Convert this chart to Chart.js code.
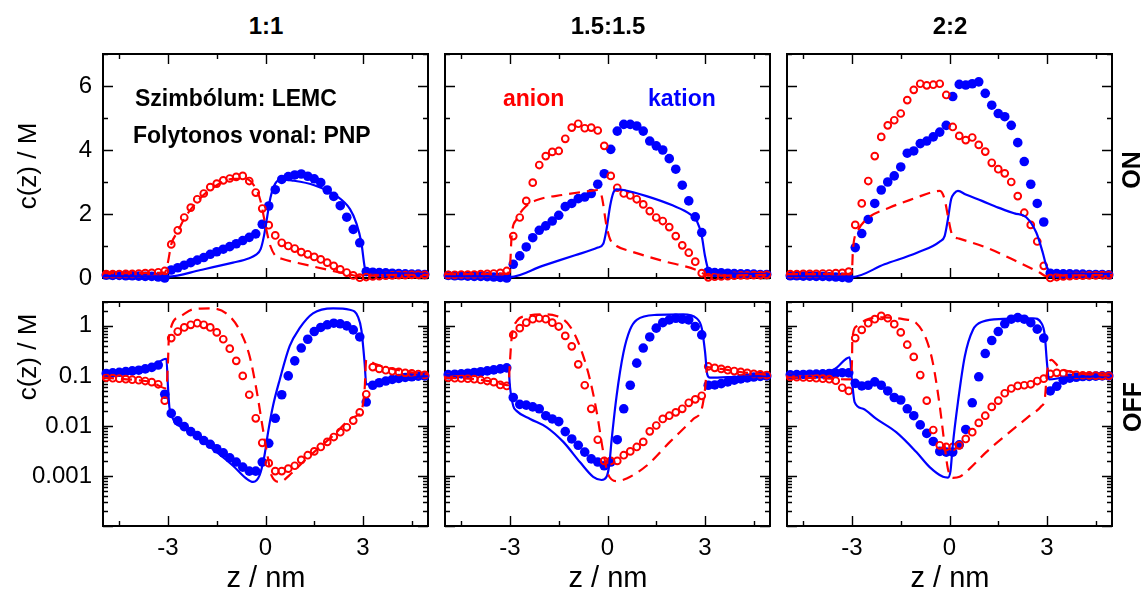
<!DOCTYPE html>
<html>
<head>
<meta charset="utf-8">
<script src="https://cdn.jsdelivr.net/npm/chart.js@4.4.1/dist/chart.umd.min.js"></script>
<style>
  body { margin: 0; background: #fff; width: 1144px; height: 592px; position: relative; overflow: hidden;
         font-family: "Liberation Sans", Arial, Helvetica, sans-serif; color: #000; }
  canvas { position: absolute; }
  .lbl { position: absolute; transform: translate(-50%, -50%); white-space: nowrap; z-index: 2; }
  .title { font-weight: bold; font-size: 24px; }
  .ytitle { font-size: 26px; transform: translate(-50%, -50%) rotate(-90deg); }
  .xtitle { font-size: 29px; }
  .side { font-weight: bold; font-size: 25px; transform: translate(-50%, -50%) rotate(-90deg); }
  .note { position: absolute; transform: translateY(-50%); white-space: nowrap; font-weight: bold; font-size: 23px; z-index: 2; }
</style>
</head>
<body>

<div class="lbl title" style="left:266px;top:26px">1:1</div>
<div class="lbl title" style="left:608px;top:26px">1.5:1.5</div>
<div class="lbl title" style="left:950px;top:26px">2:2</div>

<div class="lbl ytitle" style="left:27px;top:166px">c(z) / M</div>
<div class="lbl ytitle" style="left:27px;top:357px">c(z) / M</div>

<div class="lbl side" style="left:1131px;top:170px">ON</div>
<div class="lbl side" style="left:1132px;top:407px">OFF</div>

<div class="lbl xtitle" style="left:266px;top:577px">z / nm</div>
<div class="lbl xtitle" style="left:608px;top:577px">z / nm</div>
<div class="lbl xtitle" style="left:950px;top:577px">z / nm</div>

<div class="note" style="left:135px;top:98px">Szimbólum: LEMC</div>
<div class="note" style="left:133px;top:135px">Folytonos vonal: PNP</div>
<div class="note" style="left:503px;top:98px;color:#ff0000">anion</div>
<div class="note" style="left:648px;top:98px;color:#0000ff">kation</div>

<script>
// LEMC sampling positions (nm)
const zGrid = [-4.9,-4.7,-4.5,-4.3,-4.1,-3.9,-3.7,-3.5,-3.3,-3.1,
               -2.9,-2.7,-2.5,-2.3,-2.1,-1.9,-1.7,-1.5,-1.3,-1.1,
               -0.9,-0.7,-0.5,-0.3,-0.1,0.1,0.3,0.5,0.7,0.9,
               1.1,1.3,1.5,1.7,1.9,2.1,2.3,2.5,2.7,2.9,
               3.1,3.3,3.5,3.7,3.9,4.1,4.3,4.5,4.7,4.9];

// axis ticks
const xTickVals = [-4.5, -3, -1.5, 0, 1.5, 3, 4.5];
const xLabelVals = [-3, 0, 3];
const yTickVals = [0, 1, 2, 3, 4, 5, 6, 7];
const yLabelVals = [0, 2, 4, 6];
const logDecades = [0.0001, 0.001, 0.01, 0.1, 1];
const logLabelVals = [1, 0.1, 0.01, 0.001];
const logLabelText = ['1', '0.1', '0.01', '0.001'];

// ---------- ON, 1:1 ----------
const anion11On = [0.12,0.12,0.12,0.13,0.13,0.14,0.15,0.16,0.18,0.22,
  1.05,1.49,1.89,2.2,2.46,2.64,2.84,2.95,3.05,3.11,
  3.16,3.19,3.03,2.67,2.17,1.65,1.33,1.1,1.0,0.92,
  0.81,0.74,0.66,0.58,0.48,0.38,0.27,0.17,0.08,0.01,
  0.03,0.05,0.06,0.07,0.08,0.09,0.09,0.1,0.1,0.1];
const cation11On = [0.09,0.08,0.08,0.07,0.07,0.06,0.05,0.05,0.03,0.0,
  0.25,0.32,0.4,0.48,0.56,0.64,0.74,0.82,0.9,0.98,
  1.07,1.17,1.27,1.38,1.68,2.25,2.76,3.08,3.17,3.22,
  3.25,3.18,3.1,2.98,2.75,2.55,2.26,1.9,1.52,1.1,
  0.2,0.18,0.17,0.16,0.15,0.14,0.13,0.12,0.12,0.11];
const pnpCation11On = [[-5,0.06],[-3.05,0.05],[-3,0.04],[-2,0.25],[-1,0.48],[-0.5,0.62],[-0.3,0.72],[-0.15,0.9],
  [-0.05,1.3],[0.05,1.9],[0.15,2.5],[0.3,2.95],[0.5,3.08],[0.8,3.05],[1.5,2.9],[2.2,2.55],[2.6,2.15],
  [2.8,1.7],[2.95,1.1],[3.05,0.35],[3.1,0.2],[3.3,0.17],[5,0.12]];
const pnpAnion11On = [[-5,0.15],[-3.1,0.17],[-3.0,0.5],[-2.9,1.05],[-2.7,1.45],[-2.5,1.85],[-2.0,2.5],[-1.5,2.9],
  [-1.0,3.1],[-0.6,3.1],[-0.3,2.8],[-0.15,2.4],[-0.05,1.9],[0.05,1.4],[0.15,1.0],[0.3,0.7],[0.5,0.6],
  [1,0.47],[2,0.24],[2.9,0.05],[3.0,0.04],[3.1,0.07],[5,0.1]];

// ---------- ON, 1.5:1.5 ----------
const anion15On = [0.1,0.1,0.11,0.11,0.11,0.12,0.13,0.14,0.16,0.22,
  1.31,1.89,2.41,2.98,3.53,3.81,3.94,3.97,4.35,4.7,
  4.82,4.68,4.7,4.61,4.13,3.19,2.82,2.64,2.58,2.46,
  2.3,2.09,1.89,1.78,1.59,1.31,1.02,0.79,0.51,0.15,
  0.02,0.04,0.05,0.06,0.07,0.08,0.08,0.09,0.09,0.1];
const cation15On = [0.08,0.07,0.07,0.06,0.05,0.05,0.04,0.03,0.02,0.0,
  0.43,0.69,0.97,1.26,1.49,1.63,1.78,1.96,2.23,2.33,
  2.48,2.53,2.64,2.93,3.26,4.02,4.59,4.8,4.8,4.75,
  4.59,4.28,4.13,4.0,3.73,3.4,2.9,2.41,1.91,1.42,
  0.2,0.17,0.16,0.15,0.14,0.13,0.13,0.12,0.11,0.11];
const pnpCation15On = [[-5,0.06],[-3.05,0.04],[-3,0.03],[-2,0.38],[-1,0.71],[-0.3,0.95],[-0.13,1.07],[-0.03,1.52],
  [0.08,2.25],[0.18,2.67],[0.28,2.77],[0.5,2.75],[1.2,2.56],[2.0,2.27],[2.55,1.99],[2.75,1.78],[2.9,1.31],
  [3.0,0.69],[3.1,0.27],[3.2,0.2],[5,0.12]];
const pnpAnion15On = [[-5,0.12],[-3.1,0.14],[-3.0,0.37],[-2.95,1.31],[-2.8,1.83],[-2.5,2.25],[-2.1,2.46],[-1.35,2.6],
  [-0.55,2.72],[-0.3,2.75],[-0.18,2.56],[-0.03,1.63],[0.08,1.21],[0.28,1.0],[0.7,0.84],[1.72,0.53],
  [2.74,0.25],[3.0,0.11],[3.1,0.07],[5,0.1]];

// ---------- ON, 2:2 ----------
const anion22On = [0.12,0.12,0.13,0.13,0.13,0.14,0.14,0.15,0.16,0.2,
  1.66,2.33,3.03,3.81,4.41,4.77,4.93,5.14,5.56,5.88,
  6.07,6.02,6.04,6.07,5.72,4.72,4.44,4.31,4.39,4.16,
  3.95,3.6,3.4,3.27,3.0,2.56,2.04,1.66,1.14,0.38,
  0.0,0.03,0.05,0.06,0.07,0.07,0.08,0.08,0.09,0.09];
const cation22On = [0.07,0.07,0.06,0.06,0.05,0.05,0.04,0.03,0.02,0.0,
  0.95,1.39,1.83,2.33,2.75,3.0,3.19,3.47,3.9,3.97,
  4.2,4.28,4.41,4.56,4.77,5.67,6.05,6.03,6.07,6.13,
  5.77,5.4,5.14,5.04,4.77,4.23,3.64,2.93,2.33,1.75,
  0.15,0.14,0.13,0.13,0.12,0.12,0.11,0.11,0.11,0.1];
const pnpCation22On = [[-5,0.06],[-3.05,0.04],[-3,0.03],[-2,0.43],[-1,0.79],[-0.3,1.14],[-0.15,1.31],[-0.05,1.83],
  [0.05,2.46],[0.15,2.65],[0.26,2.72],[0.5,2.61],[1.0,2.41],[1.5,2.2],[2.0,2.02],[2.36,1.9],[2.67,1.42],
  [2.87,0.79],[2.95,0.48],[3.03,0.27],[3.15,0.18],[5,0.13]];
const pnpAnion22On = [[-5,0.12],[-3.1,0.13],[-3.0,0.27],[-2.97,0.9],[-2.82,1.47],[-2.56,1.83],[-1.84,2.2],[-1.02,2.51],
  [-0.51,2.69],[-0.3,2.72],[-0.15,2.46],[-0.05,1.94],[0.08,1.36],[0.3,1.23],[1.13,0.95],[2.15,0.48],
  [2.77,0.17],[2.98,0.06],[3.1,0.07],[5,0.09]];

// ---------- OFF, 1:1 ----------
const anion11Off = [0.092,0.09,0.088,0.086,0.084,0.082,0.079,0.075,0.068,0.032,
  0.57,0.77,0.93,1.05,1.13,1.05,0.93,0.74,0.54,0.35,
  0.2,0.1,0.042,0.0142,0.0046,0.0018,0.00125,0.00125,0.0014,0.0016,
  0.0021,0.0026,0.0031,0.0038,0.0048,0.006,0.0075,0.0094,0.0128,0.0187,
  0.043,0.15,0.138,0.13,0.124,0.12,0.115,0.112,0.109,0.105];
const cation11Off = [0.112,0.115,0.118,0.122,0.126,0.13,0.138,0.148,0.165,0.043,
  0.0178,0.0126,0.0097,0.0077,0.0064,0.0051,0.0043,0.0035,0.0029,0.0023,
  0.0019,0.0015,0.00125,0.00125,0.0019,0.0045,0.0142,0.042,0.1,0.2,
  0.36,0.54,0.77,0.93,1.05,1.13,1.1,1.0,0.83,0.6,
  0.03,0.065,0.073,0.079,0.085,0.089,0.093,0.096,0.099,0.1];
const pnpCation11Off = [[-5,0.115],[-4,0.13],[-3.5,0.155],[-3.05,0.22],[-3,0.06],[-2.95,0.022],[-2.5,0.009],[-2.03,0.0055],
  [-1.0,0.0016],[-0.59,0.00089],[-0.38,0.00076],[-0.18,0.00104],[-0.03,0.0026],[0.08,0.0075],[0.23,0.025],
  [0.44,0.085],[0.74,0.39],[1.05,0.9],[1.46,1.78],[2.08,2.24],[2.59,2.1],[2.85,1.5],[2.95,0.83],
  [3.05,0.18],[3.1,0.068],[3.5,0.075],[4,0.085],[5,0.1]];
const pnpAnion11Off = [[-5,0.092],[-4,0.083],[-3.5,0.075],[-3.05,0.056],[-3,0.2],[-2.97,0.61],[-2.64,1.53],[-2.23,2.14],
  [-1.72,2.24],[-1.21,1.78],[-0.8,0.83],[-0.49,0.25],[-0.28,0.054],[-0.08,0.0087],[0.08,0.0022],[0.18,0.00104],
  [0.44,0.00076],[0.74,0.00104],[1.26,0.0022],[2.08,0.0064],[2.69,0.0149],[2.95,0.02],[3.05,0.054],
  [3.1,0.21],[3.4,0.17],[4.1,0.13],[5,0.107]];

// ---------- OFF, 1.5:1.5 ----------
const anion15Off = [0.092,0.09,0.089,0.088,0.086,0.083,0.079,0.075,0.066,0.063,
  0.66,0.9,1.16,1.36,1.42,1.36,1.16,0.97,0.63,0.39,
  0.17,0.065,0.022,0.0053,0.002,0.002,0.002,0.0026,0.0031,0.0038,
  0.0048,0.0078,0.0102,0.0138,0.016,0.0187,0.022,0.029,0.034,0.04,
  0.155,0.145,0.138,0.13,0.125,0.12,0.115,0.11,0.107,0.104];
const cation15Off = [0.106,0.108,0.11,0.113,0.117,0.121,0.126,0.132,0.138,0.145,
  0.037,0.027,0.026,0.024,0.022,0.016,0.0138,0.0122,0.0077,0.0055,
  0.0041,0.003,0.0022,0.0019,0.0016,0.0019,0.0053,0.022,0.065,0.18,
  0.36,0.6,0.9,1.16,1.32,1.42,1.36,1.32,0.97,0.66,
  0.065,0.066,0.07,0.076,0.082,0.087,0.091,0.095,0.098,0.1];
const pnpCation15Off = [[-5,0.105],[-4,0.118],[-3.5,0.13],[-3.05,0.15],[-3,0.06],[-2.9,0.025],[-2.8,0.02],[-2.38,0.0138],
  [-1.87,0.0094],[-1.36,0.0048],[-0.85,0.0019],[-0.44,0.00096],[-0.18,0.00083],[-0.03,0.00096],[0.05,0.0016],
  [0.13,0.0055],[0.28,0.04],[0.49,0.29],[0.69,0.83],[0.9,1.32],[1.51,1.66],[2.33,1.7],[2.74,1.42],
  [2.9,0.9],[3.0,0.31],[3.07,0.107],[3.15,0.092],[4,0.096],[5,0.1]];
const pnpAnion15Off = [[-5,0.092],[-4,0.085],[-3.5,0.075],[-3.05,0.065],[-3,0.2],[-2.95,0.57],[-2.8,1.22],[-2.49,1.58],
  [-1.98,1.7],[-1.57,1.58],[-1.15,0.97],[-0.85,0.39],[-0.54,0.085],[-0.33,0.0187],[-0.13,0.003],[0.03,0.00104],
  [0.28,0.00079],[0.59,0.00089],[1.2,0.0016],[1.92,0.0048],[2.64,0.0138],[2.9,0.022],[3.0,0.054],
  [3.07,0.15],[3.5,0.138],[4,0.122],[5,0.104]];

// ---------- OFF, 2:2 ----------
const anion22Off = [0.095,0.094,0.093,0.092,0.09,0.088,0.086,0.08,0.058,0.05,
  0.57,0.83,1.13,1.36,1.58,1.42,1.08,0.74,0.42,0.24,
  0.104,0.032,0.0083,0.0041,0.0038,0.0038,0.0041,0.0055,0.0075,0.0115,
  0.016,0.024,0.032,0.045,0.056,0.063,0.065,0.068,0.079,0.088,
  0.11,0.115,0.112,0.108,0.105,0.103,0.102,0.101,0.1,0.1];
const cation22Off = [0.105,0.106,0.107,0.108,0.109,0.11,0.112,0.114,0.116,0.115,
  0.071,0.063,0.065,0.076,0.065,0.05,0.037,0.033,0.022,0.016,
  0.0105,0.0071,0.0049,0.0031,0.003,0.003,0.0042,0.0085,0.029,0.096,
  0.28,0.51,0.77,1.1,1.36,1.46,1.36,1.16,0.86,0.57,
  0.05,0.062,0.082,0.09,0.094,0.097,0.098,0.099,0.1,0.1];
const pnpCation22Off = [[-5,0.107],[-4,0.115],[-3.53,0.138],[-3.07,0.235],[-3.0,0.08],[-2.92,0.03],[-2.66,0.022],[-2.25,0.0138],
  [-1.64,0.0075],[-1.02,0.003],[-0.61,0.0015],[-0.2,0.00096],[-0.05,0.00093],[0.03,0.00125],[0.1,0.0041],
  [0.26,0.03],[0.47,0.245],[0.72,0.83],[1.03,1.22],[1.65,1.38],[2.57,1.42],[2.83,1.13],[2.93,0.66],
  [3.0,0.18],[3.06,0.085],[3.5,0.092],[5,0.1]];
const pnpAnion22Off = [[-5,0.094],[-4,0.09],[-3.05,0.085],[-3.0,0.2],[-2.99,0.53],[-2.87,0.97],[-2.56,1.32],[-2.05,1.48],
  [-1.43,1.36],[-1.02,1.13],[-0.71,0.53],[-0.51,0.18],[-0.3,0.025],[-0.15,0.0041],[-0.05,0.0014],[0.11,0.00092],
  [0.31,0.00096],[0.62,0.0014],[1.13,0.003],[1.85,0.0075],[2.47,0.016],[2.83,0.025],[2.93,0.034],
  [3.0,0.115],[3.13,0.21],[3.39,0.145],[3.9,0.115],[5,0.1]];

const panels = [
  { row: 0, col: 0, anion: anion11On,  cation: cation11On,  pnpA: pnpAnion11On,  pnpC: pnpCation11On },
  { row: 0, col: 1, anion: anion15On,  cation: cation15On,  pnpA: pnpAnion15On,  pnpC: pnpCation15On },
  { row: 0, col: 2, anion: anion22On,  cation: cation22On,  pnpA: pnpAnion22On,  pnpC: pnpCation22On },
  { row: 1, col: 0, anion: anion11Off, cation: cation11Off, pnpA: pnpAnion11Off, pnpC: pnpCation11Off },
  { row: 1, col: 1, anion: anion15Off, cation: cation15Off, pnpA: pnpAnion15Off, pnpC: pnpCation15Off },
  { row: 1, col: 2, anion: anion22Off, cation: cation22Off, pnpA: pnpAnion22Off, pnpC: pnpCation22Off },
];

const RED = '#ff0000';
const BLUE = '#0000ff';
const FONT = "'Liberation Sans', Arial, Helvetica, sans-serif";

// panel placement on the page
const panelLeft = [103, 445, 787];
const panelTop = [54, 302];
const panelW = 325, panelH = 224;

// gnuplot style frame with inward ticks on all four sides
// (major ticks 10px, minor ticks 5px)
const gnuFrame = {
  id: 'gnuFrame',
  beforeDatasetsDraw(chart) {
    const { ctx, chartArea: a, scales: { x, y } } = chart;
    const isLog = y.type === 'logarithmic';
    ctx.save();
    ctx.strokeStyle = '#000';
    ctx.lineWidth = 1.4;
    ctx.beginPath();
    x.ticks.forEach(t => {
      const px = Math.round(x.getPixelForValue(t.value)) + 0.5;
      const len = xLabelVals.includes(t.value) ? 10 : 5;
      ctx.moveTo(px, a.bottom); ctx.lineTo(px, a.bottom - len);
      ctx.moveTo(px, a.top); ctx.lineTo(px, a.top + len);
    });
    y.ticks.forEach(t => {
      const py = Math.round(y.getPixelForValue(t.value)) + 0.5;
      const len = isLog ? (t.major ? 10 : 5) : (yLabelVals.includes(t.value) ? 10 : 5);
      ctx.moveTo(a.left, py); ctx.lineTo(a.left + len, py);
      ctx.moveTo(a.right, py); ctx.lineTo(a.right - len, py);
    });
    ctx.stroke();
    ctx.lineWidth = 2;
    ctx.strokeRect(a.left, a.top, a.right - a.left, a.bottom - a.top);
    ctx.restore();
  }
};

function lemcPoints(vals) {
  return zGrid.map((z, i) => ({ x: z, y: vals[i] }));
}

function makePanel(p) {
  const isLog = p.row === 1;
  const showY = p.col === 0;
  const showX = p.row === 1;
  const padL = showY ? 0 : 12;
  const yW = showY ? 103 : 0;
  const padT = 12, padR = 12;
  const padB = showX ? 0 : 12;
  const xH = showX ? 44 : 0;
  const cw = padL + yW + panelW + padR;
  const ch = padT + panelH + xH + padB;

  const canvas = document.createElement('canvas');
  canvas.width = cw;
  canvas.height = ch;
  canvas.style.left = (panelLeft[p.col] - yW - padL) + 'px';
  canvas.style.top = (panelTop[p.row] - padT) + 'px';
  canvas.style.width = cw + 'px';
  canvas.style.height = ch + 'px';
  document.body.appendChild(canvas);

  const yScale = isLog ? {
    type: 'logarithmic', min: 0.0001, max: 3,
    afterBuildTicks: s => {
      const t = [];
      logDecades.forEach(d => {
        for (let m = 1; m <= 9; m++) {
          if (d * m <= 3.0001) t.push({ value: d * m, major: m === 1 });
        }
      });
      s.ticks = t;
    },
    ticks: {
      display: showY, autoSkip: false, padding: 11, color: '#000', font: { family: FONT, size: 24 },
      callback: v => {
        const i = logLabelVals.findIndex(l => Math.abs(v / l - 1) < 1e-6);
        return i >= 0 ? logLabelText[i] : '';
      }
    }
  } : {
    type: 'linear', min: 0, max: 7,
    afterBuildTicks: s => { s.ticks = yTickVals.map(v => ({ value: v })); },
    ticks: {
      display: showY, autoSkip: false, padding: 11, color: '#000', font: { family: FONT, size: 24 },
      callback: v => yLabelVals.includes(v) ? String(v) : ''
    }
  };
  Object.assign(yScale, {
    grid: { display: false, drawTicks: false },
    border: { display: false },
    afterFit: s => { s.width = yW; s.paddingTop = 0; s.paddingBottom = 0; s.paddingLeft = 0; s.paddingRight = 0; }
  });

  new Chart(canvas, {
    type: 'line',
    data: {
      datasets: [
        { label: 'anion PNP', data: p.pnpA, borderColor: RED, borderWidth: 2.2, borderDash: [11, 7],
          pointRadius: 0, fill: false, cubicInterpolationMode: 'monotone', clip: false },
        { label: 'kation PNP', data: p.pnpC, borderColor: BLUE, borderWidth: 2.2,
          pointRadius: 0, fill: false, cubicInterpolationMode: 'monotone', clip: false },
        { label: 'anion LEMC', data: lemcPoints(p.anion), showLine: false, pointRadius: 3.4,
          pointBorderWidth: 1.9, pointBorderColor: RED, pointBackgroundColor: 'rgba(0,0,0,0)', clip: false },
        { label: 'kation LEMC', data: lemcPoints(p.cation), showLine: false, pointRadius: 4.8,
          pointBorderWidth: 0, pointBorderColor: BLUE, pointBackgroundColor: BLUE, clip: false },
      ]
    },
    options: {
      responsive: false,
      animation: false,
      devicePixelRatio: 1,
      events: [],
      layout: { padding: { left: padL, top: padT, right: padR, bottom: padB } },
      plugins: { legend: { display: false }, tooltip: { enabled: false } },
      scales: {
        x: {
          type: 'linear', min: -5, max: 5,
          grid: { display: false, drawTicks: false },
          border: { display: false },
          afterBuildTicks: s => { s.ticks = xTickVals.map(v => ({ value: v })); },
          afterFit: s => { s.height = xH; s.paddingLeft = 0; s.paddingRight = 0; s.paddingTop = 0; s.paddingBottom = 0; },
          ticks: {
            display: showX, autoSkip: false, maxRotation: 0, padding: 8, color: '#000',
            font: { family: FONT, size: 24 },
            callback: v => xLabelVals.includes(v) ? String(v) : ''
          }
        },
        y: yScale
      }
    },
    plugins: [gnuFrame]
  });
}

panels.forEach(makePanel);
</script>
</body>
</html>
